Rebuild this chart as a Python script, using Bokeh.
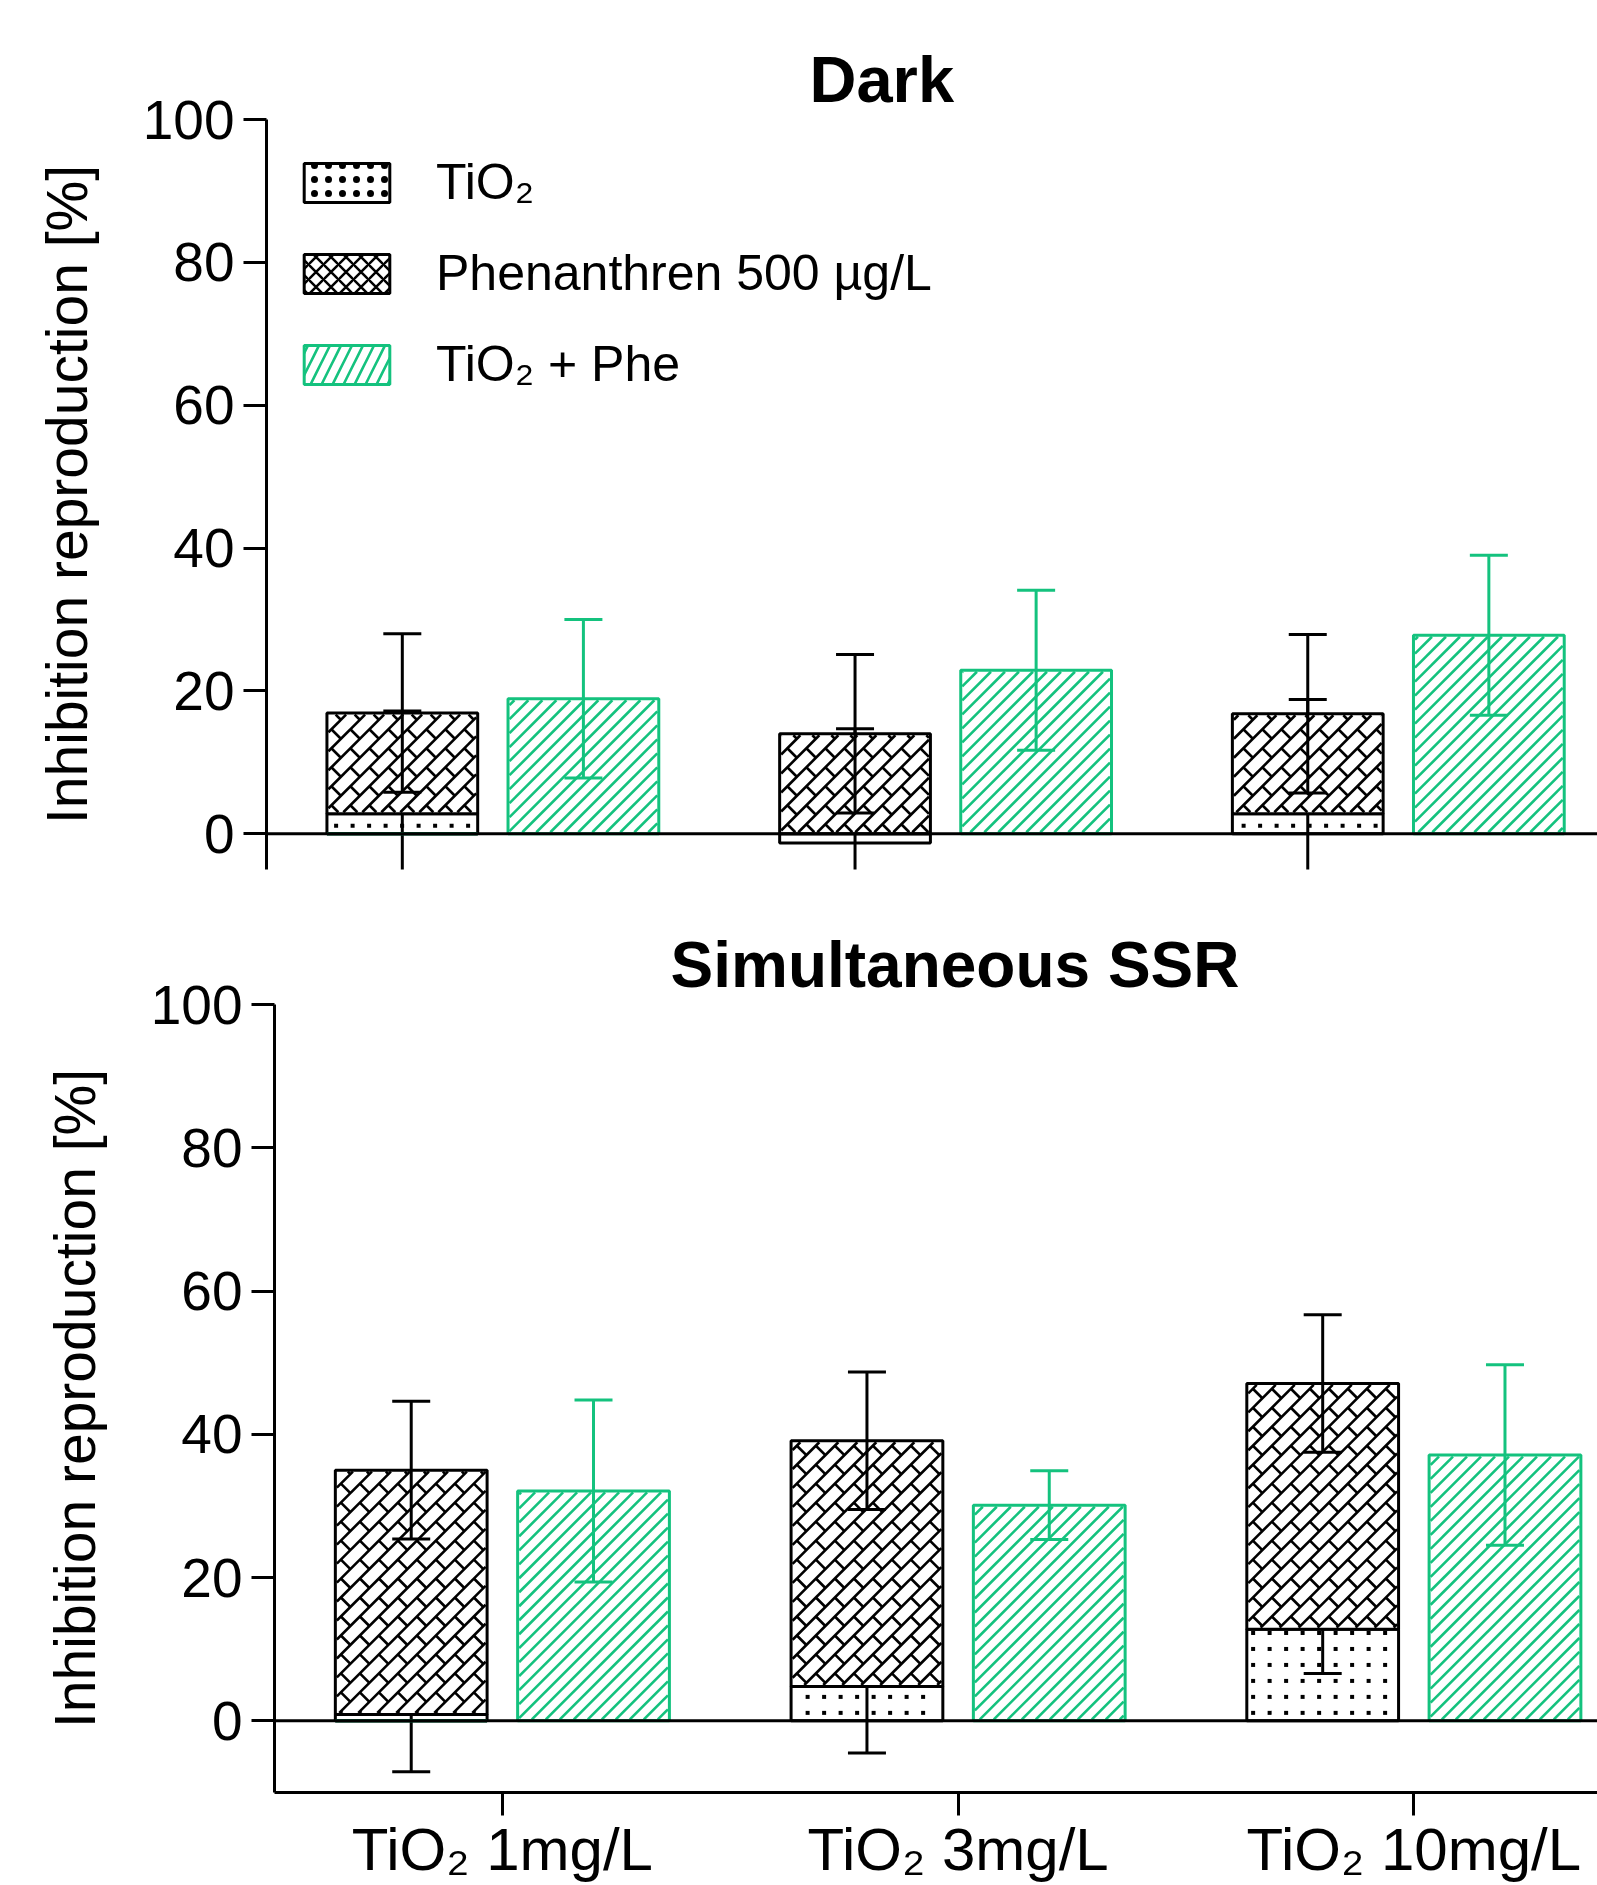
import math
import numpy as np
from bokeh.plotting import figure
from bokeh.models import Range1d, FixedTicker, Span, Legend, LegendItem, Title, Spacer
from bokeh.layouts import column, row
from bokeh.embed import file_html
from bokeh.resources import INLINE

# ---------------- data ----------------
groups = ["TiO₂ 1mg/L", "TiO₂ 3mg/L", "TiO₂ 10mg/L"]
y_ticks = [0, 20, 40, 60, 80, 100]
series_names = ["TiO₂", "Phenanthren 500 µg/L", "TiO₂ + Phe"]

# Dark (TiO2 and Phenanthren are stacked)
dark_tio2 = [2.8, -1.3, 2.8]
dark_tio2_sd = [14.4, 16.0, 16.0]
dark_phe = [14.1, 14.0, 14.0]
dark_phe_sd = [11.1, 11.1, 11.1]
dark_mix = [18.9, 22.9, 27.8]
dark_mix_sd = [11.1, 11.2, 11.2]

# Simultaneous SSR
ssr_tio2 = [0.9, 4.8, 12.8]
ssr_tio2_sd = [8.0, 9.3, 6.2]
ssr_phe = [34.1, 34.3, 34.3]
ssr_phe_sd = [9.6, 9.6, 9.6]
ssr_mix = [32.1, 30.1, 37.1]
ssr_mix_sd = [12.7, 4.8, 12.6]

GREEN = "#14C27E"
FONT = "Liberation Sans"
BORDER_LEFT = 266


# ---------------- hatch helpers (pixel-space patterns inside the bars) ----------------
def clip_seg(ax, ay, bx, by, R):
    X0, X1, Y0, Y1 = R
    dx, dy = bx - ax, by - ay
    t0, t1 = 0.0, 1.0
    for p, q in ((-dx, ax - X0), (dx, X1 - ax), (-dy, ay - Y0), (dy, Y1 - ay)):
        if p == 0:
            if q < 0:
                return None
        else:
            t = q / p
            if p < 0:
                t0 = max(t0, t)
            else:
                t1 = min(t1, t)
    if t0 >= t1:
        return None
    return (ax + t0 * dx, ay + t0 * dy, ax + t1 * dx, ay + t1 * dy)


def diag_lines(R, a):
    X0, X1, Y0, Y1 = R
    ext = (X1 - X0) + (Y1 - Y0) + 2 * a
    segs = []
    for k in range(math.floor((X0 - Y1) / a) - 1, math.ceil((X1 - Y0) / a) + 2):
        c = k * a
        s = clip_seg(X0 - ext, X0 - ext - c, X1 + ext, X1 + ext - c, R)
        if s:
            segs.append(s)
    return segs


def brick_links(R, a):
    X0, X1, Y0, Y1 = R
    segs = []
    for i in range(math.floor(X0 / a) - 2, math.ceil(X1 / a) + 2):
        for j in range(math.floor(Y0 / a) - 2, math.ceil(Y1 / a) + 2):
            sx, sy = a / 2 + i * a, a / 2 + j * a
            s = clip_seg(sx, sy, sx + a / 2, sy - a / 2, R)
            if s:
                segs.append(s)
    return segs


def px_rect(xc, w, y0, y1, ppx, ppy, inset):
    X0, X1 = (xc - w / 2) * ppx + inset, (xc + w / 2) * ppx - inset
    Ya, Yb = sorted((y0 * ppy, y1 * ppy))
    return (X0, X1, Ya + inset, Yb - inset)


def hatch(p, xc, w, bottoms, tops, ppx, ppy, kind, a, color, weight):
    x0s, y0s, x1s, y1s = [], [], [], []
    for x, b, t in zip(xc, bottoms, tops):
        R = px_rect(x, w, b, t, ppx, ppy, 1.5)
        if R[1] <= R[0] or R[3] <= R[2]:
            continue
        segs = diag_lines(R, a)
        if kind == "brick":
            segs += brick_links(R, a)
        for (ax, ay, bx, by) in segs:
            x0s.append(ax / ppx); y0s.append(ay / ppy)
            x1s.append(bx / ppx); y1s.append(by / ppy)
    p.segment(x0=x0s, y0=y0s, x1=x1s, y1=y1s, line_color=color, line_width=weight)


def dots(p, xc, w, bottoms, tops, ppx, ppy, dx, dy, size):
    xs, ys = [], []
    for x, b, t in zip(xc, bottoms, tops):
        X0, X1, Y0, Y1 = px_rect(x, w, b, t, ppx, ppy, 1.5 + size / 2)
        for i in range(math.floor(X0 / dx) - 1, math.ceil(X1 / dx) + 1):
            for j in range(math.floor(Y0 / dy) - 1, math.ceil(Y1 / dy) + 1):
                X, Y = (i + 0.5) * dx, (j + 0.5) * dy
                if X0 <= X <= X1 and Y0 <= Y <= Y1:
                    xs.append(X / ppx); ys.append(Y / ppy)
    p.scatter(x=xs, y=ys, marker="square", size=size, fill_color="black", line_color=None)


def errbar(p, x, c, sd, color):
    c = np.asarray(c, float)
    sd = np.asarray(sd, float)
    lo, hi = c - sd, c + sd
    p.segment(x0=x, y0=lo, x1=x, y1=hi, line_color=color, line_width=3)
    p.scatter(x=np.concatenate([x, x]), y=np.concatenate([lo, hi]), marker="dash",
              size=38, line_color=color, line_width=3)


def panel(title, title_size, title_offset, tio2, tio2_sd, phe, phe_sd, mix, mix_sd,
          y_start, x_end, width, height, border_top, border_bottom, show_x):
    x_start = -0.5
    p = figure(width=width, height=height, output_backend="svg", toolbar_location=None,
               x_range=Range1d(x_start, x_end), y_range=Range1d(y_start, 100),
               min_border_left=BORDER_LEFT, min_border_right=0,
               min_border_top=border_top, min_border_bottom=border_bottom)
    p.title = Title(text=title, align="left", offset=title_offset, standoff=7,
                    text_font=FONT, text_font_size=title_size, text_font_style="bold",
                    text_color="black")
    p.outline_line_color = None
    p.xgrid.visible = False
    p.ygrid.visible = False
    p.background_fill_color = "white"

    ppx = (width - BORDER_LEFT) / (x_end - x_start)
    ppy = (height - border_top - border_bottom) / (100 - y_start)

    xi = np.arange(len(groups), dtype=float)
    xb = xi - 0.2
    xg = xi + 0.2
    bw = 0.333

    tio2 = np.asarray(tio2, float)
    phe = np.asarray(phe, float)
    mix = np.asarray(mix, float)
    base = np.maximum(tio2, 0)
    ptop = base + phe
    zeros = np.zeros(len(groups))

    # TiO2 (bottom of the stack, dotted)
    p.vbar(x=xb, width=bw, bottom=0, top=tio2, fill_color="white",
           line_color="black", line_width=3)
    dots(p, xb, bw, zeros, tio2, ppx, ppy, 16.5, 16, 4)
    errbar(p, xb, tio2, tio2_sd, "black")
    # Phenanthren (stacked, brick hatch)
    p.vbar(x=xb, width=bw, bottom=base, top=ptop, fill_color="white",
           line_color="black", line_width=3)
    hatch(p, xb, bw, base, ptop, ppx, ppy, "brick", 19, "black", 2.6)
    errbar(p, xb, ptop, phe_sd, "black")
    # TiO2 + Phe (green diagonal hatch)
    p.vbar(x=xg, width=bw, bottom=0, top=mix, fill_color="white",
           line_color=GREEN, line_width=3)
    hatch(p, xg, bw, zeros, mix, ppx, ppy, "line", 14, GREEN, 2.6)
    errbar(p, xg, mix, mix_sd, GREEN)

    # legend swatches: zero-height bars on the baseline (hidden under the zero line)
    sw = dict(x=xb[:1], width=bw, bottom=zeros[:1], top=zeros[:1], fill_color="white",
              line_width=3)
    lg_t = p.vbar(**sw, line_color="black", hatch_pattern="dot", hatch_color="black",
                  hatch_scale=14)
    lg_p = p.vbar(**sw, line_color="black", hatch_pattern="diagonal_cross",
                  hatch_color="black", hatch_scale=15, hatch_weight=2.5)
    lg_g = p.vbar(**sw, line_color=GREEN, hatch_pattern="right_diagonal_line",
                  hatch_color=GREEN, hatch_scale=22, hatch_weight=2.6)

    p.add_layout(Span(location=0, dimension="width", line_color="black", line_width=3))

    ya = p.yaxis[0]
    ya.ticker = FixedTicker(ticks=y_ticks)
    ya.axis_line_width = 3
    ya.major_tick_line_width = 3
    ya.major_tick_out = 23
    ya.major_tick_in = 0
    ya.minor_tick_out = 0
    ya.minor_tick_in = 0
    ya.major_label_text_font = FONT
    ya.major_label_text_font_size = "55px"
    ya.major_label_text_color = "black"
    ya.major_label_standoff = 9
    ya.axis_label = "Inhibition reproduction [%]"
    ya.axis_label_text_font = FONT
    ya.axis_label_text_font_size = "57px"
    ya.axis_label_text_font_style = "normal"
    ya.axis_label_text_color = "black"
    ya.axis_label_standoff = 41

    xa = p.xaxis[0]
    if show_x:
        xa.ticker = FixedTicker(ticks=[0, 1, 2])
        xa.major_label_overrides = {i: g for i, g in enumerate(groups)}
        xa.axis_line_width = 3
        xa.major_tick_line_width = 3
        xa.major_tick_out = 23
        xa.major_tick_in = 0
        xa.minor_tick_out = 0
        xa.minor_tick_in = 0
        xa.major_label_text_font = FONT
        xa.major_label_text_font_size = "60px"
        xa.major_label_text_color = "black"
        xa.major_label_standoff = 0
    else:
        xa.visible = False
    return p, (lg_t, lg_p, lg_g)


p1, sw1 = panel("Dark", "65px", 543, dark_tio2, dark_tio2_sd, dark_phe, dark_phe_sd,
                dark_mix, dark_mix_sd, -5, 2.44, 1597, 900, 119, 31, False)

legend = Legend(items=[LegendItem(label=series_names[0], renderers=[sw1[0]]),
                       LegendItem(label=series_names[1], renderers=[sw1[1]]),
                       LegendItem(label=series_names[2], renderers=[sw1[2]])],
                location=(27, 476), margin=0, padding=0, spacing=33,
                glyph_width=107, glyph_height=49, label_standoff=36,
                label_text_font=FONT, label_text_font_size="50px",
                label_text_color="black", border_line_alpha=0,
                background_fill_alpha=0)
p1.add_layout(legend)

p2, _ = panel("Simultaneous SSR", "64px", 396, ssr_tio2, ssr_tio2_sd, ssr_phe, ssr_phe_sd,
              ssr_mix, ssr_mix_sd, -10, 2.403, 1589, 985, 104, 92, True)

layout = column(p1, row(Spacer(width=8, height=985), p2, spacing=0), spacing=0)
open("out.html", "w").write(file_html(layout, INLINE))
